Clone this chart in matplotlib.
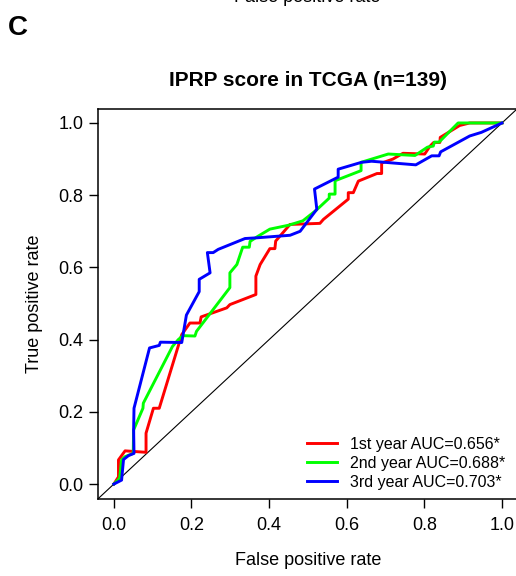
import numpy as np
import matplotlib
matplotlib.use("Agg")
import matplotlib.pyplot as plt

plt.rcParams['font.family'] = ['Liberation Sans', 'DejaVu Sans']

# ROC curves (false positive rate, true positive rate) for each time point
fpr_1y = [0.0, 0.012, 0.012, 0.029, 0.083, 0.083, 0.102, 0.117, 0.175, 0.196,
          0.222, 0.225, 0.291, 0.299, 0.366, 0.366, 0.377, 0.402, 0.415, 0.417,
          0.454, 0.531, 0.540, 0.604, 0.604, 0.617, 0.630, 0.678, 0.690, 0.690,
          0.719, 0.745, 0.801, 0.814, 0.824, 0.840, 0.841, 0.891, 0.917, 1.0]
tpr_1y = [0.0, 0.020, 0.067, 0.092, 0.088, 0.141, 0.210, 0.210, 0.414, 0.446,
          0.446, 0.463, 0.488, 0.497, 0.525, 0.576, 0.608, 0.652, 0.652, 0.673,
          0.719, 0.722, 0.733, 0.789, 0.807, 0.807, 0.839, 0.860, 0.860, 0.889,
          0.900, 0.916, 0.914, 0.935, 0.946, 0.946, 0.960, 0.993, 1.0, 1.0]

fpr_2y = [0.0, 0.015, 0.020, 0.029, 0.050, 0.051, 0.075, 0.076, 0.151, 0.166,
          0.178, 0.209, 0.213, 0.299, 0.299, 0.317, 0.332, 0.349, 0.351, 0.371,
          0.402, 0.451, 0.487, 0.521, 0.555, 0.555, 0.570, 0.570, 0.637, 0.637,
          0.707, 0.776, 0.808, 0.823, 0.826, 0.838, 0.887, 0.917, 1.0]
tpr_2y = [0.0, 0.016, 0.067, 0.076, 0.085, 0.150, 0.210, 0.224, 0.381, 0.400,
          0.411, 0.410, 0.423, 0.544, 0.585, 0.608, 0.656, 0.656, 0.672, 0.686,
          0.706, 0.717, 0.729, 0.758, 0.792, 0.803, 0.803, 0.840, 0.868, 0.891,
          0.914, 0.910, 0.933, 0.936, 0.947, 0.947, 1.0, 1.0, 1.0]

fpr_3y = [0.0, 0.020, 0.025, 0.038, 0.052, 0.051, 0.052, 0.092, 0.117, 0.120,
          0.175, 0.187, 0.220, 0.220, 0.248, 0.241, 0.256, 0.269, 0.338, 0.369,
          0.454, 0.480, 0.523, 0.517, 0.578, 0.578, 0.638, 0.664, 0.778, 0.819,
          0.838, 0.842, 0.917, 0.947, 1.0]
tpr_3y = [0.0, 0.011, 0.068, 0.079, 0.085, 0.150, 0.210, 0.377, 0.384, 0.393,
          0.392, 0.468, 0.533, 0.567, 0.585, 0.641, 0.641, 0.650, 0.680, 0.682,
          0.689, 0.700, 0.761, 0.817, 0.850, 0.872, 0.891, 0.894, 0.884, 0.909,
          0.909, 0.920, 0.964, 0.974, 1.0]

labels = ['1st year AUC=0.656*', '2nd year AUC=0.688*', '3rd year AUC=0.703*']
line_colors = ['#ff0000', '#00ff00', '#0000ff']
ticks = [0.0, 0.2, 0.4, 0.6, 0.8, 1.0]

fig = plt.figure(figsize=(5.16, 5.76), dpi=100)
ax = fig.add_axes([0.1905, 0.1345, 0.8124, 0.6771])

# reference diagonal
ax.axline((0, 0), (1, 1), color='black', lw=0.8, zorder=1)

curves = [(fpr_1y, tpr_1y), (fpr_2y, tpr_2y), (fpr_3y, tpr_3y)]
for (fx, ty), col, lab in zip(curves, line_colors, labels):
    ax.plot(fx, ty, color=col, lw=2.1, label=lab, zorder=2)

ax.set_xlim(-0.04, 1.04)
ax.set_ylim(-0.04, 1.04)
ax.set_xticks(ticks)
ax.set_yticks(ticks)
ax.set_xticklabels([f'{t:.1f}' for t in ticks])
ax.set_yticklabels([f'{t:.1f}' for t in ticks])
ax.tick_params(axis='both', direction='out', length=6.5, width=1,
               labelsize=13)
ax.tick_params(axis='x', pad=7)
ax.tick_params(axis='y', pad=4)
for sp in ax.spines.values():
    sp.set_linewidth(1.1)

ax.set_xlabel('False positive rate', fontsize=13, labelpad=12.5)
ax.set_ylabel('True positive rate', fontsize=13, labelpad=11.5)

leg = ax.legend(loc='upper left', bbox_to_anchor=(0.497, 0.158),
                frameon=False, fontsize=11.5, handlelength=1.9,
                handletextpad=0.8, labelspacing=0.25, borderpad=0,
                borderaxespad=0)

fig.text(308 / 516, 1 - 85.7 / 576, 'IPRP score in TCGA (n=139)',
         ha='center', va='baseline', fontsize=15, fontweight='bold')
fig.text(8 / 516, 1 - 35 / 576, 'C', ha='left', va='baseline',
         fontsize=20, fontweight='bold')
# axis label of the panel above, cut at the top edge
fig.text(307 / 516, 1 - 2 / 576, 'False positive rate', ha='center',
         va='baseline', fontsize=13)

fig.savefig('out.png', dpi=100)
